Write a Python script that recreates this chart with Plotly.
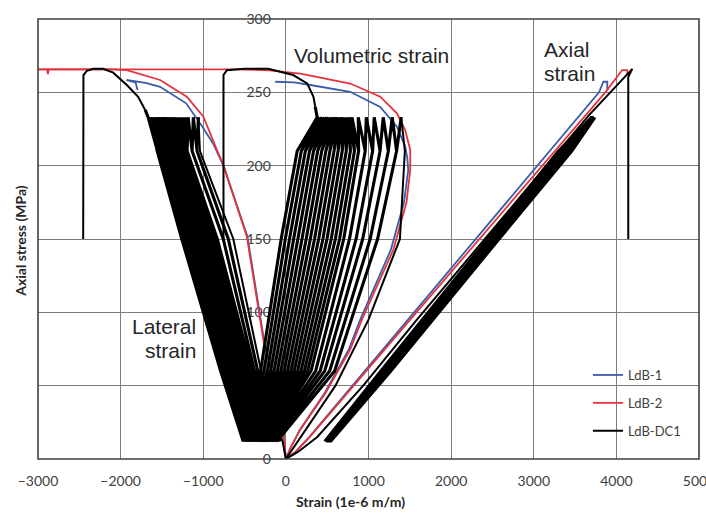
import plotly.graph_objects as go

# ---------------- monotonic tests (strain in 1e-6 m/m, stress in MPa) ----------------
ldb1_lat_strain = [0, -30, -105, -265, -465, -755, -880, -1010, -1207, -1522, -1700, -1930, -1820, -1795]
ldb1_lat_stress = [0, 20, 45, 81, 151.6, 200, 215, 226.6, 242.5, 253.8, 256.5, 258.4, 256.8, 251.6]
ldb1_vol_strain = [0, 60, 170, 470, 760, 900, 1270, 1430, 1481, 1470, 1444, 1344, 1142, 778, 294, 100, -130]
ldb1_vol_stress = [0, 8, 20, 45, 74.5, 95, 142.6, 175, 197, 205, 213, 226.6, 240, 250.4, 255, 256.8, 257.2]
ldb1_ax_strain = [0, 120, 290, 805, 1480, 3790, 3843, 3890, 3890]
ldb1_ax_stress = [0, 5, 15.4, 50, 95, 250, 257.2, 257.2, 251.6]

ldb2_lat_strain = [0, -30, -110, -271, -472, -755, -835, -915, -998, -1199, -1522, -1925, -2100,
                   -2870, -2880, -2890, -3100]
ldb2_lat_stress = [0, 20, 45, 81, 151.6, 200, 210.7, 222, 233.4, 247, 258.4, 265.2, 265.7,
                   265.7, 262.5, 265.7, 265.7]
ldb2_vol_strain = [0, 60, 173, 480, 778, 920, 1300, 1460, 1505, 1505, 1444, 1344, 1142, 778, 176,
                   -200, -600, -3100]
ldb2_vol_stress = [0, 8, 20, 45, 74.5, 95, 142.6, 175, 197, 210.7, 224.3, 235.7, 247, 256, 262.8,
                   265, 265.7, 265.7]
ldb2_ax_strain = [0, 120, 295, 818, 1505, 3866, 4071, 4132, 4132]
ldb2_ax_stress = [0, 5, 15.4, 50, 95, 250, 265.2, 265.2, 262]

# ---------------- damage-controlled cyclic test LdB-DC1 ----------------
# stress levels at which each cycle's strains are tabulated
cycle_levels = [12, 60, 150, 210, 233]

# first loading (lateral / volumetric) up to the upper cycle stress
dc1_lat_first_strain = [0, -40, -300, -636, -1040, -1059]
dc1_lat_first_stress = [0, 12, 60, 150, 210, 233]
dc1_vol_first_strain = [0, 180, 600, 1000, 1380, 1440, 1396]
dc1_vol_first_stress = [0, 15, 50, 95, 150, 210, 233]

# lateral strain of each unload/reload cycle at the tabulated stress levels
dc1_lat_12 = [-70, -100, -125, -147, -169, -190, -212, -234, -256, -278, -299, -321, -343, -365,
              -387, -408, -430, -452, -474, -495, -517]
dc1_lat_60 = [-340, -380, -410, -431, -452, -473, -494, -516, -537, -558, -579, -600, -621, -642,
              -663, -684, -706, -727, -748, -769, -790]
dc1_lat_150 = [-697, -758, -830, -854, -878, -902, -926, -949, -973, -997, -1021, -1045, -1069,
               -1093, -1117, -1141, -1165, -1188, -1212, -1236, -1260]
dc1_lat_210 = [-1075, -1135, -1195, -1215, -1235, -1255, -1276, -1296, -1316, -1336, -1356, -1376,
               -1397, -1417, -1437, -1457, -1477, -1497, -1518, -1538, -1558]
dc1_lat_233 = [-1120, -1183, -1205, -1231, -1256, -1282, -1308, -1333, -1359, -1385, -1410, -1436,
               -1462, -1487, -1513, -1539, -1564, -1590, -1616, -1641, -1667]

# volumetric strain of each cycle
dc1_vol_12 = [-110, -140, -170, -195, -220, -240, -259, -277, -296, -315, -333, -352, -371, -389,
              -408, -427, -445, -464, -483, -501, -520]
dc1_vol_60 = [590, 530, 470, 415, 360, 305, 264, 224, 183, 142, 101, 61, 20, -21, -61, -102, -143,
              -184, -224, -265, -306]
dc1_vol_150 = [1110, 1020, 930, 850, 770, 700, 650, 599, 549, 498, 448, 397, 347, 296, 246, 195,
               145, 94, 44, -7, -57]
dc1_vol_210 = [1340, 1240, 1140, 1050, 960, 880, 830, 781, 731, 682, 632, 583, 533, 484, 434, 385,
               335, 286, 236, 187, 137]
dc1_vol_233 = [1287, 1178, 1069, 973, 876, 800, 772, 744, 716, 688, 660, 632, 604, 576, 548, 520,
               492, 464, 436, 408, 379]

# axial strain of each cycle
dc1_ax_12 = [470, 473, 477, 480, 484, 487, 491, 494, 498, 501, 505, 508, 512, 515, 519, 522, 526,
             529, 533, 536, 540]
dc1_ax_60 = [1150, 1156, 1162, 1168, 1174, 1180, 1186, 1192, 1198, 1204, 1210, 1216, 1222, 1228,
             1234, 1240, 1246, 1252, 1258, 1264, 1270]
dc1_ax_150 = [2440, 2447, 2454, 2461, 2468, 2475, 2482, 2489, 2496, 2503, 2510, 2517, 2524, 2531,
              2538, 2545, 2552, 2559, 2566, 2573, 2580]
dc1_ax_210 = [3300, 3308, 3316, 3324, 3332, 3340, 3348, 3356, 3364, 3372, 3380, 3388, 3396, 3404,
              3412, 3420, 3428, 3436, 3444, 3452, 3460]
dc1_ax_233 = [3700, 3702, 3704, 3706, 3708, 3710, 3712, 3714, 3716, 3718, 3720, 3722, 3724, 3726,
              3728, 3730, 3732, 3734, 3736, 3738, 3740]

# final loading to peak and post-peak drop
dc1_lat_final_strain = [-1703, -1788, -1925, -2090, -2211, -2330, -2409, -2450, -2453]
dc1_lat_final_stress = [238, 247, 255, 263.4, 266, 266, 264.7, 261.8, 150]
dc1_vol_final_strain = [355, 334, 258, 88, -213, -500, -714, -755, -755]
dc1_vol_final_stress = [240.2, 247, 256.1, 261.8, 266, 266, 265.1, 261.8, 150]
dc1_ax_strain = [0, 150, 380, 936, 1586, 3672, 4193, 4144, 4144]
dc1_ax_stress = [0, 5, 15, 50, 95, 234.6, 266, 260.5, 150]


def cycle_path(cols, lead_unload):
    """Unload/reload path through the tabulated cycle strains."""
    xs, ys = [], []
    for k in range(len(cols[0])):
        if k > 0 or lead_unload:
            for j in (3, 2, 1):
                xs.append(cols[j][k])
                ys.append(cycle_levels[j])
        for j in range(5):
            xs.append(cols[j][k])
            ys.append(cycle_levels[j])
    return xs, ys


def join(*parts):
    xs, ys = [], []
    for i, (px, py) in enumerate(parts):
        if i:
            xs.append(None)
            ys.append(None)
        xs += list(px)
        ys += list(py)
    return xs, ys


lat_cx, lat_cy = cycle_path([dc1_lat_12, dc1_lat_60, dc1_lat_150, dc1_lat_210, dc1_lat_233], True)
vol_cx, vol_cy = cycle_path([dc1_vol_12, dc1_vol_60, dc1_vol_150, dc1_vol_210, dc1_vol_233], True)
ax_cx, ax_cy = cycle_path([dc1_ax_12, dc1_ax_60, dc1_ax_150, dc1_ax_210, dc1_ax_233], False)

# monotonic branches of DC1 (first loading, final loading, axial record)
dc1_x, dc1_y = join(
    (dc1_lat_first_strain, dc1_lat_first_stress),
    (dc1_lat_final_strain, dc1_lat_final_stress),
    (dc1_vol_first_strain, dc1_vol_first_stress),
    (dc1_vol_final_strain, dc1_vol_final_stress),
    (dc1_ax_strain, dc1_ax_stress),
)
# unload/reload cycles, linked to the first- and final-loading branches
cyc_x, cyc_y = join(
    ([dc1_lat_first_strain[-1]] + lat_cx + [dc1_lat_final_strain[0]],
     [dc1_lat_first_stress[-1]] + lat_cy + [dc1_lat_final_stress[0]]),
    ([dc1_vol_first_strain[-1]] + vol_cx + [dc1_vol_final_strain[0]],
     [dc1_vol_first_stress[-1]] + vol_cy + [dc1_vol_final_stress[0]]),
    (ax_cx, ax_cy),
)
l1_x, l1_y = join((ldb1_lat_strain, ldb1_lat_stress), (ldb1_vol_strain, ldb1_vol_stress),
                  (ldb1_ax_strain, ldb1_ax_stress))
l2_x, l2_y = join((ldb2_lat_strain, ldb2_lat_stress), (ldb2_vol_strain, ldb2_vol_stress),
                  (ldb2_ax_strain, ldb2_ax_stress))

fig = go.Figure()
fig.add_trace(go.Scatter(x=l1_x, y=l1_y, mode="lines", name="LdB-1", legendgroup="a",
                         line=dict(color="#3b5bab", width=1.8)))
fig.add_trace(go.Scatter(x=l2_x, y=l2_y, mode="lines", name="LdB-2", legendgroup="b",
                         line=dict(color="#e3343c", width=1.8)))
fig.add_trace(go.Scatter(x=cyc_x, y=cyc_y, mode="lines", name="LdB-DC1", legendgroup="c",
                         showlegend=False, line=dict(color="#000000", width=3.1)))
fig.add_trace(go.Scatter(x=dc1_x, y=dc1_y, mode="lines", name="LdB-DC1", legendgroup="c",
                         line=dict(color="#000000", width=2)))

tick_font = dict(family="Lato", size=14, color="#404040")
grid_col = "#7d7d7d"

fig.update_layout(
    width=706, height=513,
    margin=dict(l=38, r=7, t=19, b=54, autoexpand=False),
    paper_bgcolor="white", plot_bgcolor="white",
    showlegend=True,
    legend=dict(x=0.832, y=0.225, xanchor="left", yanchor="top",
                font=dict(family="Lato", size=13, color="#404040"),
                bgcolor="rgba(0,0,0,0)", traceorder="grouped", tracegroupgap=8),
    xaxis=dict(range=[-3000, 5000], dtick=1000, tick0=0, showgrid=True, gridcolor=grid_col,
               gridwidth=1, zeroline=False, showline=False, ticks="", tickfont=tick_font,
               ticklabelstandoff=12, ticklabeloverflow="allow", automargin=False),
    yaxis=dict(range=[0, 300], dtick=50, tick0=0, showgrid=True, gridcolor=grid_col,
               gridwidth=1, zeroline=False, showline=False, ticks="", tickfont=tick_font,
               anchor="free", position=0.375, ticklabelstandoff=15, layer="below traces",
               automargin=False),
    shapes=[dict(type="rect", xref="paper", yref="paper", x0=0, x1=1, y0=0, y1=1,
                 line=dict(color="#404040", width=1.6), layer="above")],
)

label_font = dict(family="Liberation Sans", size=21, color="#262626")
fig.add_annotation(x=73, y=275, xref="x", yref="y", text="Volumetric strain", showarrow=False,
                   xanchor="left", yanchor="middle", font=label_font)
fig.add_annotation(x=3099, y=279.5, xref="x", yref="y", text="Axial", showarrow=False,
                   xanchor="left", yanchor="middle", font=label_font)
fig.add_annotation(x=3105, y=263, xref="x", yref="y", text="strain", showarrow=False,
                   xanchor="left", yanchor="middle", font=label_font)
fig.add_annotation(x=-1058, y=90.5, xref="x", yref="y", text="Lateral", showarrow=False,
                   xanchor="right", yanchor="middle", font=label_font)
fig.add_annotation(x=-1062, y=74, xref="x", yref="y", text="strain", showarrow=False,
                   xanchor="right", yanchor="middle", font=label_font)

title_font = dict(family="Lato", size=14, color="#262626")
fig.add_annotation(x=785, y=-0.097, xref="x", yref="paper", text="<b>Strain (1e-6 m/m)</b>",
                   showarrow=False, xanchor="center", yanchor="middle", font=title_font)
fig.add_annotation(x=-0.026, y=148.7, xref="paper", yref="y", text="<b>Axial stress (MPa)</b>",
                   showarrow=False, xanchor="center", yanchor="middle", textangle=-90,
                   font=title_font)

fig.write_html("out.html")
